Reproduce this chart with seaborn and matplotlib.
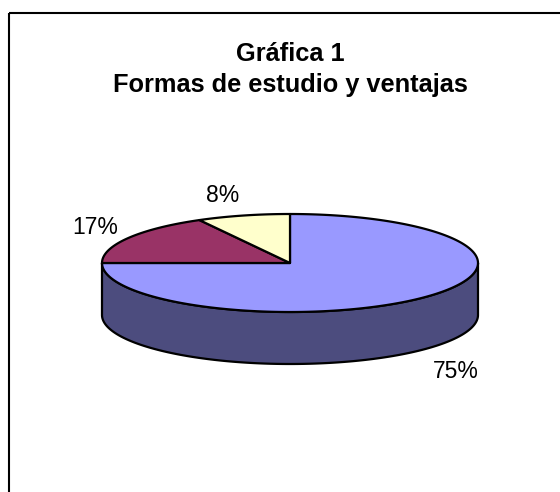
import matplotlib
matplotlib.use("Agg")
import matplotlib.pyplot as plt
import seaborn as sns
import numpy as np
from matplotlib.patches import Polygon

# Data
categories = ["Forma A", "Forma B", "Forma C"]
values = [75, 17, 8]
labels = ["75%", "17%", "8%"]
top_colors = ["#9999FF", "#993366", "#FFFFCC"]
side_colors = ["#4C4C7E", "#4D1A33", "#808066"]

title_line1 = "Gráfica 1"
title_line2 = "Formas de estudio y ventajas"

sns.set_style("white")
plt.rcParams["font.family"] = ["Liberation Sans", "DejaVu Sans"]
plt.rcParams["text.color"] = "black"

# Pie geometry in pixels
cx, cy = 290, 263
rx, ry = 188, 49
depth = 52

fig = plt.figure(figsize=(5.6, 4.92), dpi=100)
ax = fig.add_axes([0, 0, 1, 1])
ax.set_xlim(0, 560)
ax.set_ylim(492, 0)
ax.axis("off")


def ellipse_pts(a0, a1, dy=0, n=200):
    t = np.radians(np.linspace(a0, a1, n))
    return np.column_stack([cx + rx * np.cos(t), cy - ry * np.sin(t) + dy])


fracs = np.array(values) / np.sum(values)
ends = 90 - 360 * np.cumsum(fracs)
starts = np.concatenate([[90], ends[:-1]])

# Sides (front only: angles in [-180, 0])
for a_start, a_end, col in zip(starts, ends, side_colors):
    lo, hi = min(a_start, a_end), max(a_start, a_end)
    lo, hi = max(lo, -180), min(hi, 0)
    if hi <= lo:
        continue
    top = ellipse_pts(lo, hi)
    bot = ellipse_pts(hi, lo, dy=depth)
    ax.add_patch(Polygon(np.vstack([top, bot]), closed=True, facecolor=col,
                         edgecolor="black", linewidth=1.6, joinstyle="round"))

# Tops
for a_start, a_end, col in zip(starts, ends, top_colors):
    arc = ellipse_pts(a_end, a_start)
    pts = np.vstack([[cx, cy], arc])
    ax.add_patch(Polygon(pts, closed=True, facecolor=col, edgecolor="black",
                         linewidth=1.6, joinstyle="round"))

# Labels
label_pos = [(455.5, 372), (95, 227), (222.5, 196)]
for lab, (lx, ly) in zip(labels, label_pos):
    ax.text(lx, ly, lab, ha="center", va="center", fontsize=16.5, color="black")

ax.text(290, 61, title_line1, ha="center", va="baseline", fontsize=18.3,
        fontweight="bold", color="black")
ax.text(290, 92, title_line2, ha="center", va="baseline", fontsize=18.3,
        fontweight="bold", color="black")

# Frame (top and left edges)
ax.plot([9, 560], [13, 13], color="black", linewidth=1.5, solid_capstyle="butt")
ax.plot([9, 9], [13, 492], color="black", linewidth=1.5, solid_capstyle="butt")

fig.savefig("out.png", dpi=100)
